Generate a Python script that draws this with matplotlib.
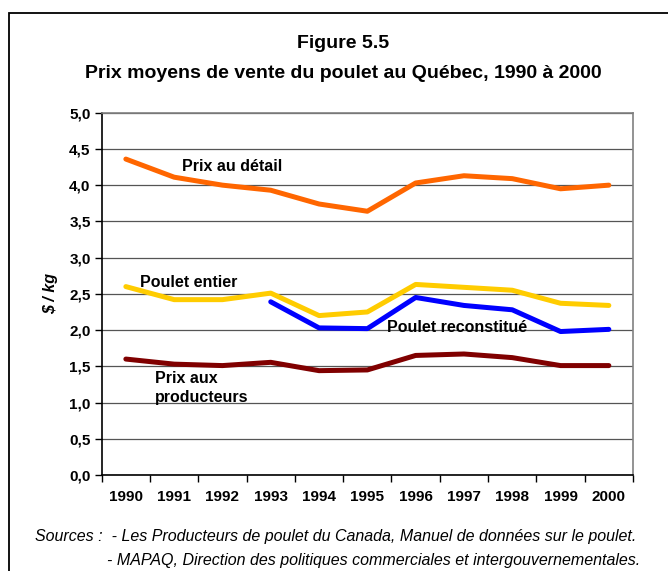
import matplotlib
matplotlib.use("Agg")
import matplotlib.pyplot as plt
from matplotlib.patches import Rectangle
from matplotlib.ticker import FixedLocator, FuncFormatter

plt.rcParams['font.family'] = ['Liberation Sans', 'DejaVu Sans']

years = ['1990', '1991', '1992', '1993', '1994', '1995', '1996', '1997', '1998', '1999', '2000']
prix_detail = [4.36, 4.11, 4.00, 3.93, 3.74, 3.64, 4.03, 4.13, 4.09, 3.95, 4.00]
poulet_entier = [2.60, 2.42, 2.42, 2.51, 2.20, 2.25, 2.63, 2.59, 2.55, 2.37, 2.34]
poulet_reconst = [None, None, None, 2.39, 2.03, 2.02, 2.45, 2.34, 2.28, 1.98, 2.01]
prix_prod = [1.60, 1.53, 1.51, 1.555, 1.44, 1.45, 1.65, 1.67, 1.62, 1.51, 1.51]
y_ticks = [0.0, 0.5, 1.0, 1.5, 2.0, 2.5, 3.0, 3.5, 4.0, 4.5, 5.0]

W, H = 668, 571
fig = plt.figure(figsize=(W / 100, H / 100), dpi=100)
ax = fig.add_axes([101.7 / W, (H - 475) / H, (633 - 101.7) / W, (475 - 112.7) / H])

x = list(range(len(years)))
lw = 3.6
ax.plot(x, prix_detail, color='#FF6600', lw=lw, solid_capstyle='round', zorder=3)
ax.plot(x, poulet_entier, color='#FFCC00', lw=lw, solid_capstyle='round', zorder=3)
xr = [i for i, v in zip(x, poulet_reconst) if v is not None]
yr = [v for v in poulet_reconst if v is not None]
ax.plot(xr, yr, color='#0000FF', lw=lw, solid_capstyle='round', zorder=4)
ax.plot(x, prix_prod, color='#800000', lw=lw, solid_capstyle='round', zorder=3)

ax.set_xlim(-0.5, len(years) - 0.5)
ax.set_ylim(0, 5)
ax.yaxis.set_major_locator(FixedLocator(y_ticks))
ax.yaxis.set_major_formatter(FuncFormatter(lambda v, p: f"{v:.1f}".replace('.', ',')))
ax.grid(axis='y', color='#555555', lw=0.9, zorder=1)
ax.set_axisbelow(True)

ax.xaxis.set_major_locator(FixedLocator([i - 0.5 for i in range(len(years) + 1)]))
ax.xaxis.set_major_formatter(FuncFormatter(lambda v, p: ''))
ax.xaxis.set_minor_locator(FixedLocator(x))
ax.set_xticklabels(years, minor=True)
ax.tick_params(axis='x', which='major', length=5, width=1, color='black', direction='out')
ax.tick_params(axis='x', which='minor', length=0, pad=11, labelsize=11)
ax.tick_params(axis='y', length=5, width=1, color='black', direction='out', pad=3, labelsize=11)
for lab in ax.get_xticklabels(minor=True) + ax.get_yticklabels():
    lab.set_fontweight('bold')

for s in ['left', 'bottom']:
    ax.spines[s].set_color('black')
    ax.spines[s].set_linewidth(1.2)
for s in ['right', 'top']:
    ax.spines[s].set_color('#808080')
    ax.spines[s].set_linewidth(1.2)

ax.set_ylabel('$ / kg', fontsize=11.5, fontweight='bold', fontstyle='italic', labelpad=8)

lab_kw = dict(fontsize=11.5, fontweight='bold', color='black', zorder=5)
ax.text(1.17, 4.26, 'Prix au détail', ha='left', va='center', **lab_kw)
ax.text(0.3, 2.66, 'Poulet entier', ha='left', va='center', **lab_kw)
ax.text(5.4, 2.04, 'Poulet reconstitué', ha='left', va='center', **lab_kw)
ax.text(0.6, 1.2, 'Prix aux\nproducteurs', ha='left', va='center', linespacing=1.35, **lab_kw)

fig.text(343 / W, 1 - 43 / H, 'Figure 5.5', ha='center', va='center', fontsize=14, fontweight='bold')
fig.text(343 / W, 1 - 74 / H, 'Prix moyens de vente du poulet au Québec, 1990 à 2000',
         ha='center', va='center', fontsize=14, fontweight='bold')

fig.text(35 / W, 1 - 537 / H,
         'Sources :  - Les Producteurs de poulet du Canada, Manuel de données sur le poulet.',
         ha='left', va='center', fontsize=11.5, fontstyle='italic')
fig.text(107 / W, 1 - 561 / H,
         '- MAPAQ, Direction des politiques commerciales et intergouvernementales.',
         ha='left', va='center', fontsize=11.5, fontstyle='italic')

fig.patches.append(Rectangle((9 / W, -0.2), 1.2, (H - 13) / H + 0.2, transform=fig.transFigure,
                             fill=False, edgecolor='black', lw=1.3, clip_on=False))

fig.savefig('out.png', dpi=100)
